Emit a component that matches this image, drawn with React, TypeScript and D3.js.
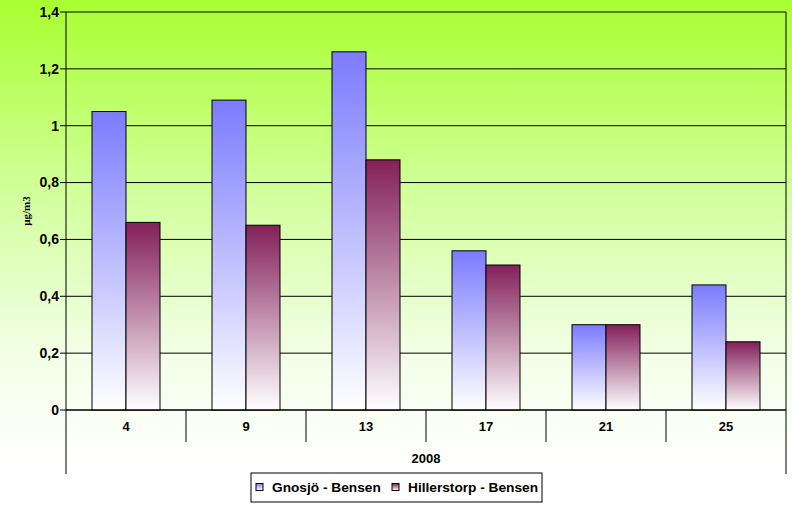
import React, { useEffect, useRef } from 'react';
import * as d3 from 'd3';

// weeks of 2008
const weeks = ['4', '9', '13', '17', '21', '25'];
const gnosjo = [1.05, 1.09, 1.26, 0.56, 0.30, 0.44];
const hillerstorp = [0.66, 0.65, 0.88, 0.51, 0.30, 0.24];
const seriesNames = ['Gnosjö - Bensen', 'Hillerstorp - Bensen'];
const yTicks = [0, 0.2, 0.4, 0.6, 0.8, 1, 1.2, 1.4];
const groupLabel = '2008';

const W = 792;
const H = 505;
const margin = { top: 12, right: 6, bottom: 95, left: 66 };
const width = W - margin.left - margin.right;
const height = H - margin.top - margin.bottom;
const font = '"Liberation Sans", Arial, sans-serif';

const App = () => {
  const svgRef = useRef(null);

  useEffect(() => {
    const svg = d3.select(svgRef.current);
    svg.selectAll('*').remove();

    const defs = svg.append('defs');
    const bg = defs.append('linearGradient').attr('id', 'bg')
      .attr('x1', 0).attr('y1', 0).attr('x2', 0).attr('y2', 1);
    bg.append('stop').attr('offset', '0%').attr('stop-color', '#a8ff30');
    bg.append('stop').attr('offset', '40%').attr('stop-color', '#d4ffa0');
    bg.append('stop').attr('offset', '70%').attr('stop-color', '#f2ffe6');
    bg.append('stop').attr('offset', '92%').attr('stop-color', '#ffffff');

    const fills = [
      { id: 'g0', top: '#7b7bff' },
      { id: 'g1', top: '#83205a' },
    ];
    fills.forEach((f) => {
      const lg = defs.append('linearGradient').attr('id', f.id)
        .attr('x1', 0).attr('y1', 0).attr('x2', 0).attr('y2', 1);
      lg.append('stop').attr('offset', '0%').attr('stop-color', f.top);
      lg.append('stop').attr('offset', '100%').attr('stop-color', '#ffffff');
    });

    svg.append('rect').attr('width', W).attr('height', H).attr('fill', 'url(#bg)');

    const g = svg.append('g').attr('transform', `translate(${margin.left},${margin.top})`);

    const x = d3.scaleBand().domain(weeks).range([0, width]);
    const xs = d3.scaleBand().domain(['0', '1']).range([26, x.bandwidth() - 26]);
    const y = d3.scaleLinear().domain([0, 1.4]).range([height, 0]);

    // gridlines + ticks
    g.selectAll('.grid').data(yTicks).join('line')
      .attr('x1', -6).attr('x2', width)
      .attr('y1', (d) => y(d)).attr('y2', (d) => y(d))
      .attr('stroke', '#000').attr('stroke-width', 1);

    g.selectAll('.ylab').data(yTicks).join('text')
      .attr('x', -7).attr('y', (d) => y(d))
      .attr('dy', '0.35em')
      .attr('text-anchor', 'end')
      .style('font-family', font).style('font-weight', 'bold').style('font-size', '14px')
      .text((d) => String(d).replace('.', ','));

    // bars
    const series = [gnosjo, hillerstorp];
    series.forEach((vals, si) => {
      g.selectAll(`.bar${si}`).data(vals).join('rect')
        .attr('x', (d, i) => x(weeks[i]) + xs(String(si)))
        .attr('y', (d) => y(d))
        .attr('width', xs.bandwidth())
        .attr('height', (d) => height - y(d))
        .attr('fill', `url(#g${si})`)
        .attr('stroke', '#000').attr('stroke-width', 1);
    });

    // axes frame
    g.append('line').attr('x1', 0).attr('x2', 0).attr('y1', 0).attr('y2', height + 64)
      .attr('stroke', '#000');
    g.append('line').attr('x1', width).attr('x2', width).attr('y1', 0).attr('y2', height + 64)
      .attr('stroke', '#000');
    g.append('line').attr('x1', 0).attr('x2', width).attr('y1', height).attr('y2', height)
      .attr('stroke', '#000');

    g.selectAll('.sep').data(weeks.slice(1)).join('line')
      .attr('x1', (d) => x(d)).attr('x2', (d) => x(d))
      .attr('y1', height).attr('y2', height + 32)
      .attr('stroke', '#000');

    g.selectAll('.xlab').data(weeks).join('text')
      .attr('x', (d) => x(d) + x.bandwidth() / 2)
      .attr('y', height + 16)
      .attr('dy', '0.35em')
      .attr('text-anchor', 'middle')
      .style('font-family', font).style('font-weight', 'bold').style('font-size', '13px')
      .text((d) => d);

    g.append('text')
      .attr('x', width / 2).attr('y', height + 48)
      .attr('dy', '0.35em')
      .attr('text-anchor', 'middle')
      .style('font-family', font).style('font-weight', 'bold').style('font-size', '13px')
      .text(groupLabel);

    // y label
    svg.append('text')
      .attr('transform', `translate(30,${margin.top + y(0.7)}) rotate(-90)`)
      .attr('text-anchor', 'middle')
      .style('font-family', '"Liberation Serif", "Times New Roman", serif')
      .style('font-weight', 'bold').style('font-size', '11px')
      .text('µg/m3');

    // legend
    const leg = svg.append('g').attr('transform', 'translate(251,473)');
    leg.append('rect').attr('width', 291).attr('height', 29)
      .attr('fill', '#fff').attr('stroke', '#000');
    const offsets = [5, 141];
    seriesNames.forEach((name, i) => {
      const it = leg.append('g').attr('transform', `translate(${offsets[i]},0)`);
      it.append('rect').attr('x', 0).attr('y', 10.5).attr('width', 7).attr('height', 7)
        .attr('fill', `url(#g${i})`).attr('stroke', '#000');
      it.append('text').attr('x', 16).attr('y', 14).attr('dy', '0.35em')
        .style('font-family', font).style('font-weight', 'bold').style('font-size', '13.7px')
        .text(name);
    });
  }, []);

  return (
    <svg ref={svgRef} width={W} height={H} style={{ position: 'absolute', left: 0, top: 0 }}></svg>
  );
};

export default App;
